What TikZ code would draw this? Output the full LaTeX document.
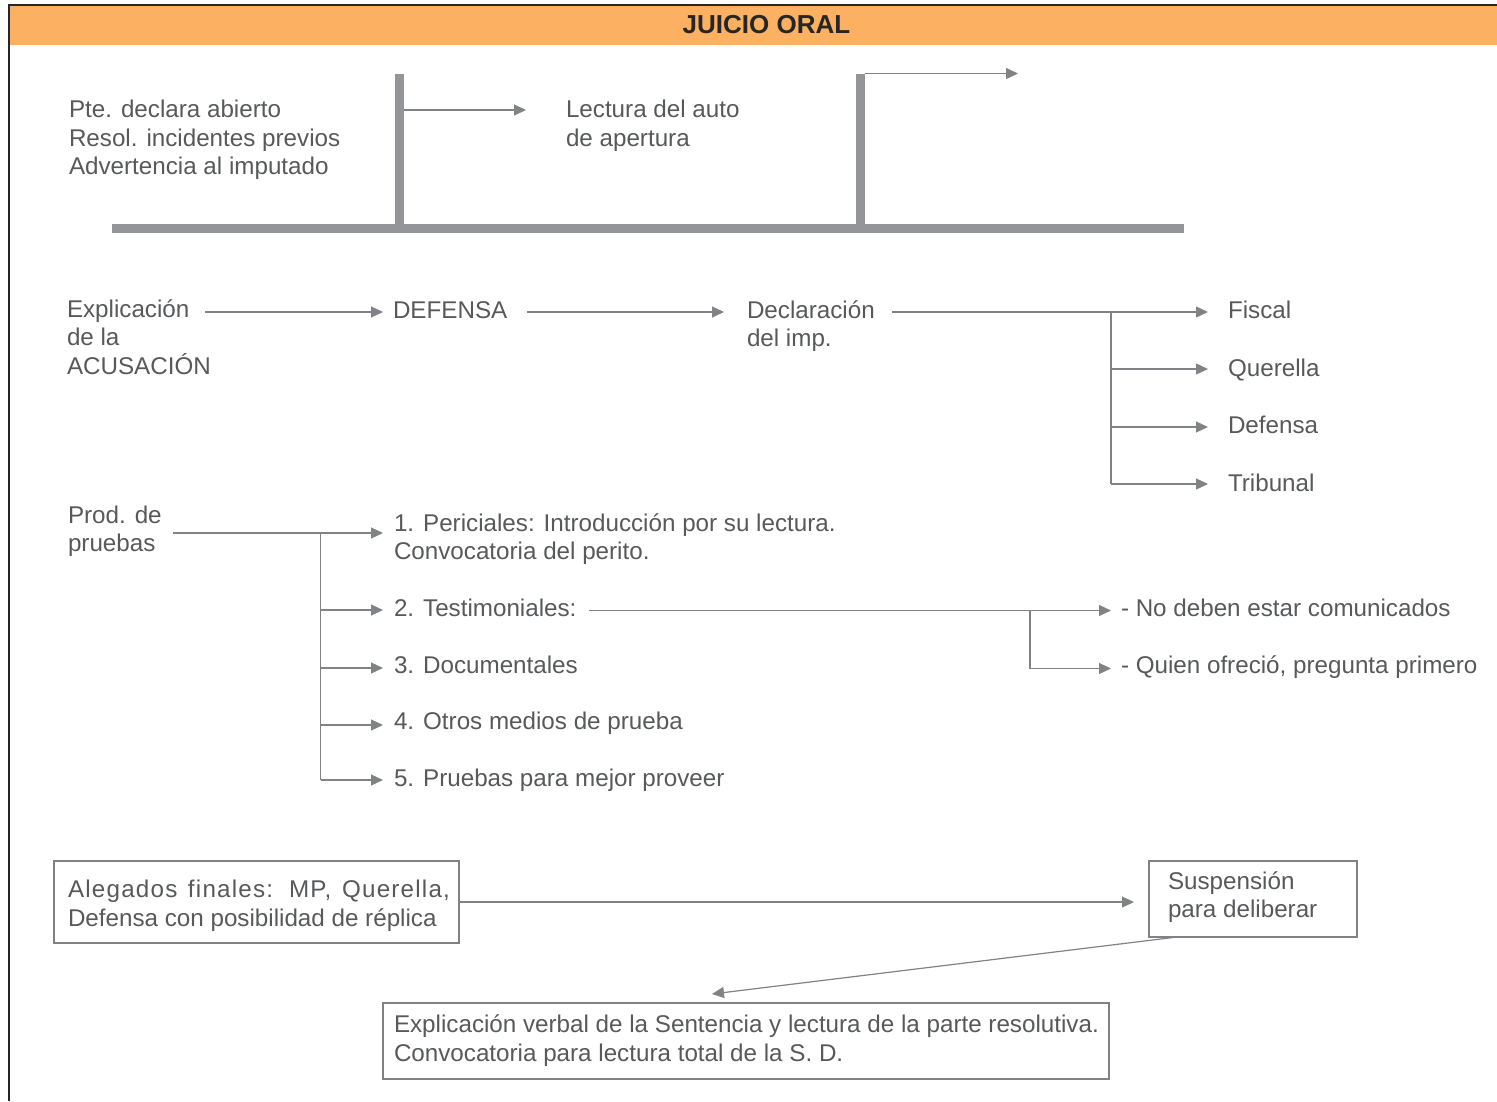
\documentclass[tikz,border=0pt]{standalone}
\usepackage{fontspec}
\setmainfont{Liberation Sans}
\usetikzlibrary{arrows.meta}
\definecolor{headband}{HTML}{FBB062}
\definecolor{inkgray}{HTML}{58595B}
\definecolor{wiregray}{HTML}{818285}
\definecolor{railgray}{HTML}{939598}
\begin{document}
% multi-line labels are placed by the baseline of their last line
\begin{tikzpicture}[x=1pt,y=-1pt,
  txt/.style={anchor=base west,inner sep=0pt,outer sep=0pt,text=inkgray,align=left,
    font=\fontsize{24.2}{28.5}\selectfont},
  wire/.style={draw=wiregray,line width=1.2pt},
  arr/.style={wire,-{Triangle[length=12pt,width=11pt]}},
  rail/.style={draw=railgray,line width=9pt},
  framebox/.style={draw=wiregray,line width=1.2pt,inner sep=0pt,outer sep=0pt}
]
\useasboundingbox (0,0) rectangle (1497,1101);
\fill[white] (0,0) rectangle (1497,1101);

% title band and page frame
\fill[headband] (9,5) rectangle (1497,45);
\draw[line width=1.3pt,black!85] (1497,5) -- (9,5) -- (9,1101);
\node[anchor=base,inner sep=0pt,font=\bfseries\fontsize{26}{30}\selectfont,text=black!85]
  (title) at (766.5,33) {JUICIO ORAL};

% time line with two posts
\coordinate (railL) at (112,228);
\coordinate (railR) at (1184,228);
\coordinate (postAtop) at (399,74);
\coordinate (postAfoot) at (399,228);
\coordinate (postBtop) at (860,74);
\coordinate (postBfoot) at (860,228);
\draw[rail] (railL) -- (railR);
\draw[rail] (postAtop) -- (postAfoot);
\draw[rail] (postBtop) -- (postBfoot);

\node[txt] (opening) at (69,174.5) {Pte. declara abierto\\Resol. incidentes previos\\Advertencia al imputado};
\node[txt] (reading) at (566,146) {Lectura del auto\\de apertura};

\coordinate (tapA) at (403.5,110);
\coordinate (tipA) at (526,110);
\coordinate (tapB) at (864.5,73.5);
\coordinate (tipB) at (1018,73.5);
\draw[arr] (tapA) -- (tipA);
\draw[arr] (tapB) -- (tipB);

% second row: accusation, defence, statement of the accused
\node[txt] (accusation) at (67,374) {Explicación\\de la\\ACUSACIÓN};
\node[txt] (defense) at (393,318) {DEFENSA};
\node[txt] (statement) at (747,346.5) {Declaración\\del imp.};
\node[txt] (fiscal) at (1228,318) {Fiscal};
\node[txt] (querella) at (1228,376) {Querella};
\node[txt] (defensa) at (1228,433) {Defensa};
\node[txt] (tribunal) at (1228,491) {Tribunal};

\coordinate (accOut) at (205,312);
\coordinate (defIn) at (383,312);
\coordinate (defOut) at (527,312);
\coordinate (stmIn) at (724,312);
\coordinate (stmOut) at (892,312);
\coordinate (askSplit) at (1111,312);
\coordinate (askEnd) at (1111,484);
\draw[arr] (accOut) -- (defIn);
\draw[arr] (defOut) -- (stmIn);
\draw[wire] (stmOut) -- (askSplit);
\draw[wire] (askSplit) -- (askEnd);
\foreach \nm/\yy in {fiscal/312,querella/369,defensa/427,tribunal/484}
  \draw[arr] (1111,\yy) -- ([xshift=-20pt]\nm.base west |- 0,\yy);

% third row: taking of evidence
\node[txt] (evidence) at (68,551.5) {Prod. de\\pruebas};
\node[txt] (expert) at (394,559.5) {1. Periciales: Introducción por su lectura.\\Convocatoria del perito.};
\node[txt] (witness) at (394,616) {2. Testimoniales:};
\node[txt] (docs) at (394,673) {3. Documentales};
\node[txt] (other) at (394,729.5) {4. Otros medios de prueba};
\node[txt] (extra) at (394,786) {5. Pruebas para mejor proveer};
\node[txt] (nocomm) at (1121,616) {- No deben estar comunicados};
\node[txt] (firstask) at (1121,673.5) {- Quien ofreció, pregunta primero};

\coordinate (evOut) at (173,533);
\coordinate (evSplit) at (320.5,533);
\coordinate (evEnd) at (320.5,780);
\draw[wire] (evOut) -- (evSplit) -- (evEnd);
\foreach \yy in {533,610,668,725,780}
  \draw[arr] (320.5,\yy) -- (383,\yy);

\coordinate (witOut) at (589,610.5);
\coordinate (witSplit) at (1030,610.5);
\coordinate (witEnd) at (1030,668.5);
\draw[wire] (witOut) -- (witSplit) -- (witEnd);
\draw[arr] (witSplit) -- (1111,610.5);
\draw[arr] (witEnd) -- (1111,668.5);

% closing stage
\node[framebox,minimum width=405pt,minimum height=82pt] (closing) at (256.5,902) {};
\node[txt] (closingtext) at (68,926)
  {\makebox[382pt][s]{\addfontfeature{LetterSpace=5}Alegados finales: MP, Querella,}\\Defensa con posibilidad de réplica};
\node[framebox,minimum width=208pt,minimum height=76pt] (suspend) at (1253,899) {};
\node[txt] (suspendtext) at (1168,917.5) {Suspensión\\para deliberar};
\node[framebox,minimum width=726pt,minimum height=76pt] (verdict) at (746,1041) {};
\node[txt] (verdicttext) at (394,1061)
  {Explicación verbal de la Sentencia y lectura de la parte resolutiva.\\Convocatoria para lectura total de la S. D.};

\draw[arr] (closing.east) -- ([xshift=-15pt]suspend.west |- closing.east);
\draw[arr] ([xshift=28pt]suspend.south west) -- ([xshift=329pt,yshift=9pt]verdict.north west);
\end{tikzpicture}
\end{document}
